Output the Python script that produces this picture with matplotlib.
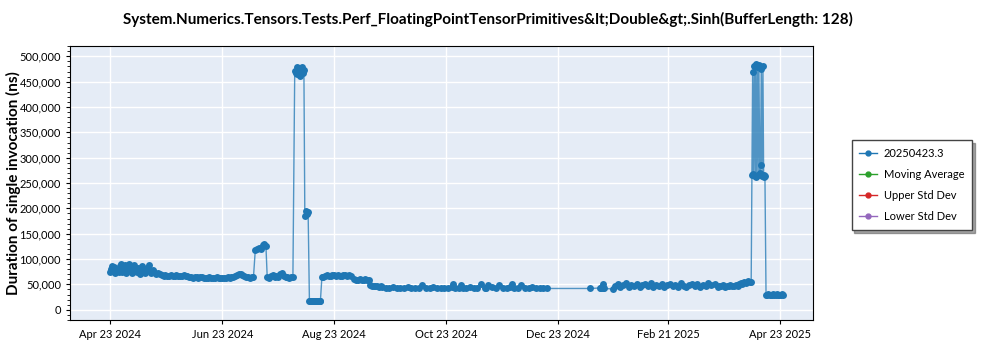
#!/usr/bin/env python3
# -*- coding: utf-8 -*-

import numpy as np
import matplotlib
matplotlib.use('Agg')
import matplotlib.pyplot as plt
import matplotlib.dates as mdate
from matplotlib.ticker import MultipleLocator, FuncFormatter

# days after 2024-04-23, duration in thousands of ns
days = [
    # late april / may, noisy 70-90k
    0, 0.5, 1, 1.5, 2, 2.5, 3, 4, 4.5, 5, 6, 6.5, 7, 8, 8.5, 9, 10, 10.5, 11, 12,
    12.5, 13, 14, 14.5, 15, 16, 17, 17.5, 18, 19, 20, 21, 21.5, 22, 23, 24, 25, 26, 27,
    # may - july, flat ~65k
    28, 29, 30, 31, 32, 33, 34, 35, 36, 37, 38, 39, 40, 41, 42, 43, 44, 45, 46, 47,
    48, 49, 50, 51, 52, 53, 54, 55, 56, 57, 58, 59, 60, 61, 62, 63, 64, 65, 66, 67,
    68, 69, 70, 71, 72, 73, 74, 75, 76, 77, 78,
    # small step up
    79, 80, 81, 82, 83, 84, 84.8,
    85.5, 86.5, 87.5, 88.5, 89.5, 90.5, 91.5, 92.5, 93.5, 94.5, 95.5, 96.5, 97.5, 98.5, 99.5,
    # big spike
    100.5, 101, 101.5, 102, 102.5, 103, 103.5, 104, 104.5, 105, 105.5,
    106, 106.6, 107.2, 107.8,
    # low run
    108.5, 109, 109.5, 110, 110.5, 111, 111.5, 112, 112.5, 113, 113.5, 114, 114.5,
    # back to ~67k
    115.3, 116, 117, 118, 119, 120, 121, 122, 123, 124, 125, 126, 127, 128, 129, 130, 131,
    133, 134, 135, 136, 137, 138, 139, 140, 141,
    141.5, 142.5, 143.5, 144.5, 145.5, 146.5, 147.5,
    # long flat ~43k
    148, 150, 152, 154, 156, 158, 160, 162, 164, 166, 168, 170, 172, 174, 176, 178, 180,
    182, 184, 186, 187, 188, 190, 191, 192, 194, 196, 198, 200, 202, 204, 205, 206, 208,
    210, 212, 214, 216, 218, 219, 220, 222, 224, 226, 228, 230, 232, 234, 236, 238,
    # sparse around new year
    261.7, 267, 267.5, 268, 268.3, 268.8, 269.2, 274,
    # feb - march ~47k
    275, 276.5, 278, 279.5, 281, 282.5, 284, 285.5, 287, 288.5, 290, 291.5, 293, 294.5,
    296, 297.5, 299, 300.5, 302, 303.5, 305, 306.5, 308, 309.5, 311, 312.5, 314, 315.5,
    317, 318.5, 320, 321.5, 323, 324.5, 326, 327.5, 329.5,
    331, 332, 333, 334, 335, 336, 337, 338, 339, 340, 341, 342,
    342.5, 343.5, 344.5, 345.5, 346.5, 347.5, 348.5, 349.3,
    # april 2025 spike
    349.7, 350.1, 350.5, 351, 351.4, 351.8, 352.2, 352.7, 353.1, 353.5, 354, 354.4,
    354.8, 355.2, 355.7, 356.1, 356.5, 356.8,
    # last run ~30k
    357.4, 358, 358.7, 359.4, 360, 360.7, 361.4, 362, 362.7, 363.4, 364, 364.7, 365.4, 366, 366.7,
]

vals_k = [
    74, 80, 86, 78, 84, 72, 76, 79, 74, 86, 90, 75, 81, 88, 73, 79, 90, 76, 84, 72,
    80, 89, 77, 74, 82, 71, 86, 74, 78, 73, 83, 88, 76, 72, 79, 74, 71, 73, 70,
    68, 67, 68, 66, 67, 68, 67, 66, 68, 67, 66, 67, 68, 67, 66, 65, 64, 63, 65, 64,
    63, 64, 65, 63, 62, 63, 64, 63, 62, 63, 64, 63, 62, 63, 62, 63, 64, 63, 65, 64,
    66, 68, 70, 71, 68, 66, 65, 64, 63, 65, 64,
    118, 120, 122, 120, 128, 130, 126,
    64, 63, 66, 68, 65, 67, 64, 70, 73, 66, 65, 64, 63, 65, 64,
    472, 468, 478, 465, 470, 476, 462, 474, 479, 468, 473,
    185, 195, 188, 192,
    18, 17, 18, 18, 17, 18, 18, 17, 18, 18, 17, 18, 18,
    64, 65, 66, 68, 67, 66, 68, 69, 67, 68, 66, 67, 68, 69, 67, 68, 66,
    60, 58, 59, 61, 58, 59, 60, 58, 59,
    48, 47, 46, 47, 46, 45, 46,
    44, 43, 42, 44, 43, 42, 43, 44, 42, 43, 42, 48, 43, 42, 44, 43, 42,
    43, 42, 44, 50, 43, 42, 49, 42, 43, 44, 42, 43, 50, 42, 43, 49, 44,
    42, 48, 43, 42, 44, 50, 43, 42, 49, 42, 43, 44, 42, 43, 42, 42,
    42, 43, 42, 44, 51, 43, 42, 41,
    46, 50, 44, 48, 52, 45, 49, 47, 51, 44, 48, 50, 46, 52,
    45, 49, 47, 51, 44, 48, 50, 46, 49, 45, 52, 47, 44, 48,
    50, 46, 51, 45, 49, 47, 52, 48, 50,
    45, 47, 46, 48, 45, 47, 46, 48, 47, 46, 48, 47,
    50, 52, 51, 54, 53, 56, 54, 55,
    265, 470, 268, 480, 264, 485, 262, 478, 266, 483, 270, 285, 475, 263, 480, 262, 265, 264,
    30, 29, 31, 30, 29, 30, 31, 29, 30, 31, 30, 29, 30, 31, 30,
]

legend_labels = ['20250423.3', 'Moving Average', 'Upper Std Dev', 'Lower Std Dev']
legend_colors = ['#1f77b4', '#2ca02c', '#d62728', '#9467bd']

tick_dates = ['2024-04-23', '2024-06-23', '2024-08-23', '2024-10-23',
              '2024-12-23', '2025-02-21', '2025-04-23']
tick_labels = ['Apr 23 2024', 'Jun 23 2024', 'Aug 23 2024', 'Oct 23 2024',
               'Dec 23 2024', 'Feb 21 2025', 'Apr 23 2025']

plt.rcParams['font.family'] = ['Lato', 'DejaVu Sans']

base = np.datetime64('2024-04-23T00:00')
t = base + (np.array(days) * 24 * 60).astype(int).astype('timedelta64[m]')
t = t.astype('datetime64[ms]').astype(object)
y = np.array(vals_k) * 1000

fig = plt.figure(figsize=(10, 3.5), dpi=100)
ax = fig.add_axes([0.07, 0.086, 0.743, 0.782])
ax.set_facecolor('#e5ecf6')

ax.plot(t, y, '-', color=legend_colors[0], lw=1.0, alpha=0.75, zorder=2)
ax.plot(t, y, 'o', color=legend_colors[0], ms=5, mew=0, zorder=3)

# legend entries (no data drawn for the stats series)
for lab, c in zip(legend_labels, legend_colors):
    ax.plot([], [], '-o', color=c, lw=1, ms=3.5, label=lab)

ax.set_ylim(-20000, 520000)
ax.yaxis.set_major_locator(MultipleLocator(50000))
ax.yaxis.set_minor_locator(MultipleLocator(10000))
ax.yaxis.set_major_formatter(FuncFormatter(lambda v, p: '{:,.0f}'.format(v)))

ax.set_xlim(mdate.datestr2num('2024-04-01'), mdate.datestr2num('2025-05-11'))
ax.set_xticks([mdate.datestr2num(d) for d in tick_dates])
ax.set_xticklabels(tick_labels)

ax.grid(True, color='white', lw=1.0)
ax.set_axisbelow(True)
ax.tick_params(labelsize=8, length=3)
ax.tick_params(axis='y', which='minor', length=2)
for s in ax.spines.values():
    s.set_color('black')

ax.set_ylabel('Duration of single invocation (ns)', fontsize=11, fontweight='bold')
ax.yaxis.set_label_coords(-0.066, 0.5)
fig.text(0.123, 0.945, 'System.Numerics.Tensors.Tests.Perf_FloatingPointTensorPrimitives&lt;Double&gt;.Sinh(BufferLength: 128)',
         fontsize=11, fontweight='bold', ha='left', va='center')

handles, labels = ax.get_legend_handles_labels()
leg = fig.legend(handles, labels, loc='upper left', bbox_to_anchor=(0.846, 0.615),
                 fontsize=8, shadow=True, fancybox=False, handlelength=1.6,
                 handletextpad=0.6, borderpad=0.7, labelspacing=0.9)
leg.get_frame().set_edgecolor('#444444')

plt.savefig('out.png')
